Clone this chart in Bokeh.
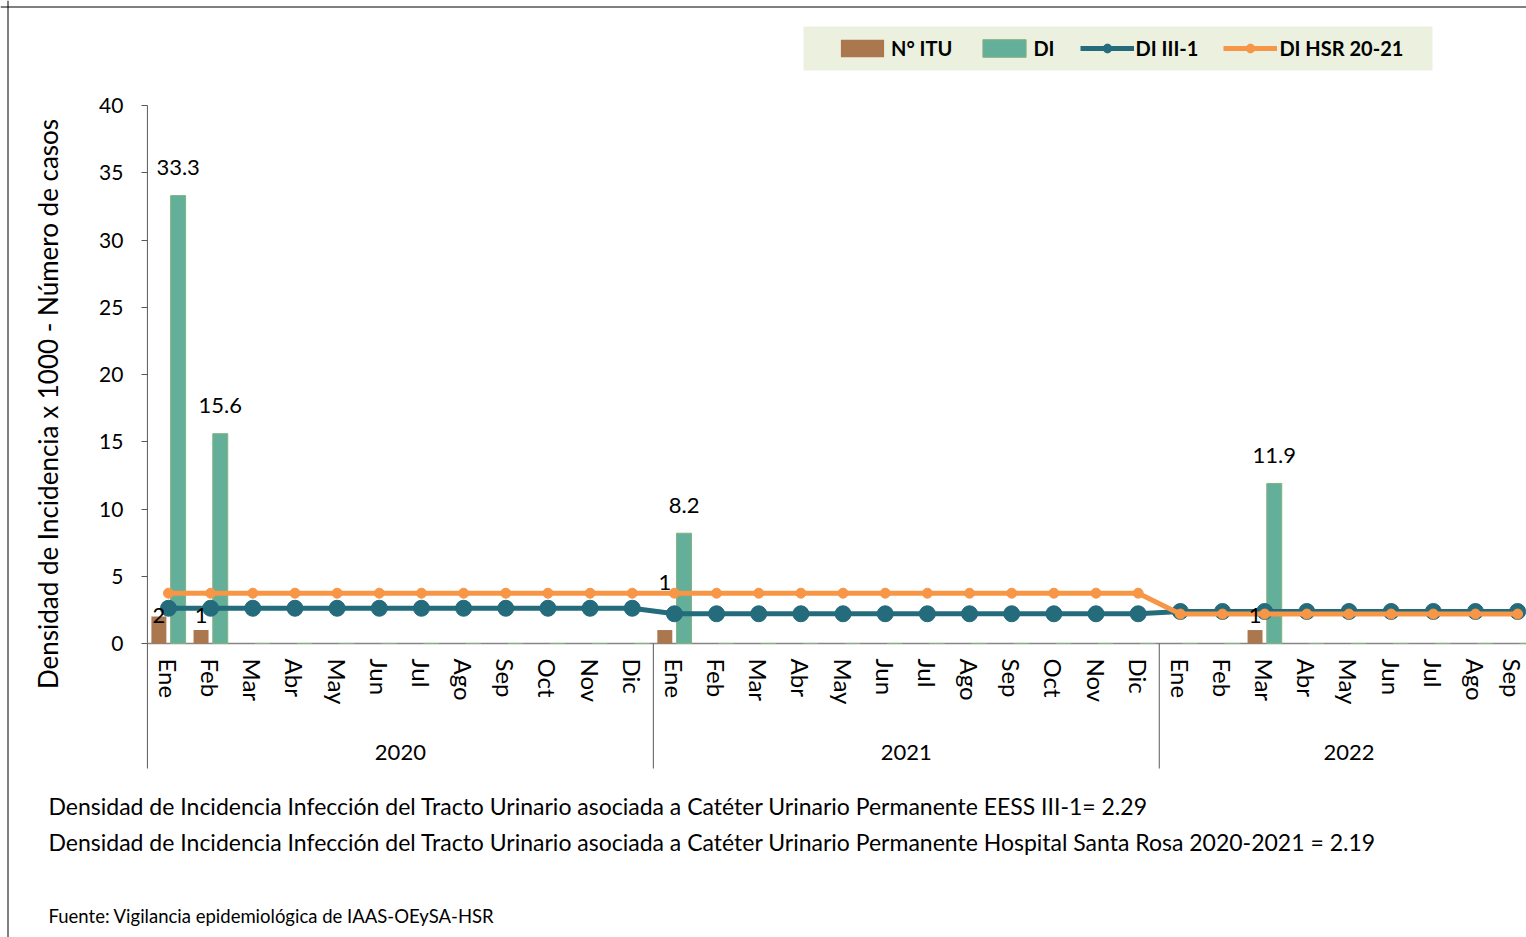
import numpy as np
from bokeh.plotting import figure
from bokeh.models import Range1d, FixedTicker, Legend, LegendItem, Label, Span
from bokeh.core.properties import value
from bokeh.embed import file_html
from bokeh.resources import INLINE

# ---------------- data ----------------
years = ["2020", "2021", "2022"]
months_per_year = [12, 12, 9]
month_names = ["Ene", "Feb", "Mar", "Abr", "May", "Jun",
               "Jul", "Ago", "Sep", "Oct", "Nov", "Dic"]

n_itu = [2, 1, 0, 0, 0, 0, 0, 0, 0, 0, 0, 0,
         1, 0, 0, 0, 0, 0, 0, 0, 0, 0, 0, 0,
         0, 0, 1, 0, 0, 0, 0, 0, 0]
di = [33.3, 15.6, 0, 0, 0, 0, 0, 0, 0, 0, 0, 0,
      8.2, 0, 0, 0, 0, 0, 0, 0, 0, 0, 0, 0,
      0, 0, 11.9, 0, 0, 0, 0, 0, 0]
di_iii1 = [2.62, 2.62, 2.62, 2.62, 2.62, 2.62, 2.62, 2.62, 2.62, 2.62, 2.62, 2.62,
           2.21, 2.21, 2.21, 2.21, 2.21, 2.21, 2.21, 2.21, 2.21, 2.21, 2.21, 2.21,
           2.38, 2.38, 2.38, 2.38, 2.38, 2.38, 2.38, 2.38, 2.38]
di_hsr = [3.74, 3.74, 3.74, 3.74, 3.74, 3.74, 3.74, 3.74, 3.74, 3.74, 3.74, 3.74,
          3.74, 3.74, 3.74, 3.74, 3.74, 3.74, 3.74, 3.74, 3.74, 3.74, 3.74, 3.74,
          2.19, 2.19, 2.19, 2.19, 2.19, 2.19, 2.19, 2.19, 2.19]

y_ticks = [0, 5, 10, 15, 20, 25, 30, 35, 40]
y_title = "Densidad de Incidencia x 1000 - Número de casos"

# label placement (style): vertical position of the N° ITU labels
itu_label_pos = [2.1, 2.1, 4.5, 2.1]

note1 = ("Densidad de Incidencia Infección del Tracto Urinario asociada a "
         "Catéter Urinario Permanente  EESS III-1= 2.29")
note2 = ("Densidad de Incidencia Infección del Tracto Urinario asociada a "
         "Catéter Urinario Permanente  Hospital Santa Rosa 2020-2021 = 2.19")
source_note = "Fuente: Vigilancia epidemiológica de IAAS-OEySA-HSR"

# ---------------- layout (pixels) ----------------
FONT = "Lato"
W, H = 1526, 937
X0_PX, PX_PER_MONTH = 168.0, 42.16   # centre of first month, month width
Y0_PX, PX_PER_UNIT = 643.0, 13.45    # baseline (0), px per y unit


def px_x(px):
    return (px - X0_PX) / PX_PER_MONTH


def px_y(py):
    return (Y0_PX - py) / PX_PER_UNIT


Y_SEP = px_y(768)        # lower end of the category separators
n = len(di)
x = np.arange(n)
month_labels = []
for yr, m in zip(years, months_per_year):
    month_labels += month_names[:m]

p = figure(width=W, height=H, output_backend="svg", toolbar_location=None,
           x_range=Range1d(px_x(0), px_x(W)), y_range=Range1d(px_y(H), px_y(0)))
p.min_border = 0
p.min_border_left = 0
p.min_border_right = 0
p.min_border_top = 0
p.min_border_bottom = 0
p.grid.visible = False
p.outline_line_color = None
p.background_fill_color = "white"
p.border_fill_color = "white"

# outer chart border (left and top)
p.add_layout(Span(location=px_x(7.5), dimension="height", line_color="#000000", line_width=1))
p.add_layout(Span(location=px_y(6.5), dimension="width", line_color="#000000", line_width=1))

# legend background
p.quad(left=[px_x(803)], right=[px_x(1432)], top=[px_y(26)], bottom=[px_y(70)],
       fill_color="#EBF1DE", line_color=None)

# y axis
ya = p.yaxis[0]
ya.fixed_location = -0.5
ya.ticker = FixedTicker(ticks=y_ticks)
ya.minor_tick_line_color = None
ya.major_tick_out = 6
ya.major_tick_in = 0
ya.axis_line_color = None
ya.major_tick_line_color = "#595959"
ya.major_label_text_font = FONT
ya.major_label_text_font_size = "21px"
ya.major_label_text_color = "#000000"
ya.major_label_standoff = 18
p.text(x=[px_x(47)], y=[px_y(403.5)], text=[y_title], angle=np.pi / 2,
       text_align="center", text_baseline="middle", text_font=value(FONT),
       text_font_size="26px", text_color="#000000")

# x axis
xa = p.xaxis[0]
xa.fixed_location = 0
xa.ticker = FixedTicker(ticks=list(range(n)))
xa.major_label_overrides = {int(i): lab for i, lab in zip(x, month_labels)}
xa.major_label_orientation = "vertical"
xa.major_tick_line_color = None
xa.major_tick_out = 0
xa.major_tick_in = 0
xa.minor_tick_line_color = None
xa.axis_line_color = None
xa.major_label_text_font = FONT
xa.major_label_text_font_size = "24px"
xa.major_label_text_color = "#000000"
xa.major_label_standoff = 15

# axis lines and year separators
bounds = np.cumsum([0] + months_per_year) - 0.5
p.segment(x0=[bounds[0]], y0=[Y_SEP], x1=[bounds[0]], y1=[y_ticks[-1]],
          line_color="#595959", line_width=1)
p.segment(x0=[bounds[0]], y0=[0], x1=[px_x(W)], y1=[0],
          line_color="#868686", line_width=1.3)
p.segment(x0=bounds[1:-1], y0=0, x1=bounds[1:-1], y1=Y_SEP,
          line_color="#595959", line_width=1)
centers = (bounds[:-1] + bounds[1:]) / 2
p.text(x=centers, y=[px_y(752)] * len(years), text=years, text_align="center",
       text_baseline="middle", text_font=value(FONT), text_font_size="22px",
       text_color="#000000")

# bars
off, bw = 0.228, 0.355
r_itu = p.vbar(x=x - off, top=n_itu, width=bw, fill_color="#AA774E",
               line_color=None)
r_di = p.vbar(x=x + off, top=di, width=bw, fill_color="#63AF9A",
              line_color="#84B27F", line_width=1)

# lines
c_teal = "#246B7C"
c_orange = "#F79646"
r_l1 = p.line(x, di_iii1, line_color=c_teal, line_width=5)
r_m1 = p.scatter(x, di_iii1, size=16, fill_color=c_teal, line_color=c_teal)
r_l2 = p.line(x, di_hsr, line_color=c_orange, line_width=5)
r_m2 = p.scatter(x, di_hsr, size=10, fill_color=c_orange, line_color=c_orange)

# data labels
di_idx = [i for i, v in enumerate(di) if v > 0]
p.text(x=[x[i] + off for i in di_idx], y=[di[i] for i in di_idx],
       text=[f"{di[i]:.1f}" for i in di_idx], y_offset=-28,
       text_align="center", text_baseline="middle", text_font=value(FONT),
       text_font_size="22px", text_color="#000000")
itu_idx = [i for i, v in enumerate(n_itu) if v > 0]
p.text(x=[x[i] - off for i in itu_idx], y=itu_label_pos,
       text=[str(n_itu[i]) for i in itu_idx],
       text_align="center", text_baseline="middle", text_font=value(FONT),
       text_font_size="22px", text_color="#000000")

# legend (background drawn above as a quad)
legend = Legend(items=[
    LegendItem(label="N° ITU", renderers=[r_itu]),
    LegendItem(label="DI", renderers=[r_di]),
    LegendItem(label="DI III-1", renderers=[r_l1, r_m1]),
    LegendItem(label="DI HSR 20-21", renderers=[r_l2, r_m2]),
], orientation="horizontal", location=(835, H - 60))
legend.background_fill_alpha = 0
legend.border_line_color = None
legend.padding = 12
legend.spacing = 25
legend.glyph_width = 54
legend.glyph_height = 22
legend.label_standoff = 2
legend.label_text_font = FONT
legend.label_text_font_size = "20px"
legend.label_text_font_style = "bold"
legend.label_text_color = "#000000"
legend.margin = 0
p.add_layout(legend, "center")

# notes below the chart
for txt, py, fs in [(note1, 805, "23px"), (note2, 841, "23px"), (source_note, 915, "18.5px")]:
    p.add_layout(Label(x=48, y=H - py, x_units="screen", y_units="screen", text=txt,
                       text_baseline="middle", text_align="left",
                       text_font=FONT, text_font_size=fs, text_color="#000000"))

open("out.html", "w").write(file_html(p, INLINE))
